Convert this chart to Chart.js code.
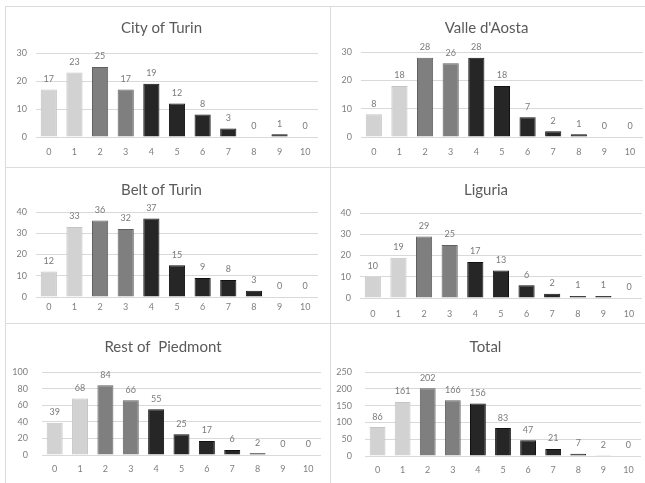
<!DOCTYPE html>
<html>
<head>
<meta charset="utf-8">
<script src="https://cdn.jsdelivr.net/npm/chart.js@4.4.1/dist/chart.umd.min.js"></script>
<style>
  html, body { margin: 0; padding: 0; background: #ffffff; }
  #wrap { position: relative; width: 645px; height: 483px; overflow: hidden; background: #fff; }
  .panel { position: absolute; box-sizing: border-box; border: 1px solid #dcdcdc; }
  canvas { position: absolute; left: 0; top: 0; }
</style>
</head>
<body>
<div id="wrap"></div>
<script>
// ---- data ----
const categories = ['0','1','2','3','4','5','6','7','8','9','10'];
const cityOfTurin     = [17, 23, 25, 17, 19, 12, 8, 3, 0, 1, 0];
const valleDAosta     = [8, 18, 28, 26, 28, 18, 7, 2, 1, 0, 0];
const beltOfTurin     = [12, 33, 36, 32, 37, 15, 9, 8, 3, 0, 0];
const liguria         = [10, 19, 29, 25, 17, 13, 6, 2, 1, 1, 0];
const restOfPiedmont  = [39, 68, 84, 66, 55, 25, 17, 6, 2, 0, 0];
const total           = [86, 161, 202, 166, 156, 83, 47, 21, 7, 2, 0];
const titles = ['City of Turin', "Valle d'Aosta", 'Belt of Turin', 'Liguria', 'Rest of  Piedmont', 'Total'];
const yMax  = [30, 30, 40, 40, 100, 250];
const yStep = [10, 10, 10, 10, 20, 50];

// ---- style ----
const shade = ['l','l','m','m','d','d','d','d','d','d','d'];
const fillOf   = { l: '#d2d2d2', m: '#7f7f7f', d: '#262626' };
const borderOf = { l: '#c4c4c4', m: '#606060', d: '#111111' };
const FONT = 'Lato, "Open Sans", "Liberation Sans", sans-serif';
const TITLE_SIZE = 15;

// layout (absolute page pixels): panel rect, chart area, title centre, x-label centre, y-label right edge
const layouts = [
  { px: 5,   py: 6,   pw: 325, ph: 161, al: 36,  ar: 318, at: 53,  ab: 137, ty: 28,  xy: 152, yr: 27 },
  { px: 330, py: 6,   pw: 315, ph: 161, al: 361, ar: 643, at: 52,  ab: 137, ty: 28,  xy: 152, yr: 352 },
  { px: 5,   py: 167, pw: 325, ph: 156, al: 36,  ar: 318, at: 212, ab: 297, ty: 190, xy: 307, yr: 27 },
  { px: 330, py: 167, pw: 315, ph: 156, al: 360, ar: 642, at: 213, ab: 298, ty: 190, xy: 314, yr: 351 },
  { px: 5,   py: 323, pw: 325, ph: 160, al: 42,  ar: 321, at: 372, ab: 455, ty: 347, xy: 469, yr: 28 },
  { px: 330, py: 323, pw: 315, ph: 160, al: 365, ar: 641, at: 372, ab: 456, ty: 347, xy: 470, yr: 352 }
];
const series = [cityOfTurin, valleDAosta, beltOfTurin, liguria, restOfPiedmont, total];

const valueLabels = {
  id: 'valueLabels',
  afterDatasetsDraw(chart) {
    const ctx = chart.ctx;
    const meta = chart.getDatasetMeta(0);
    const vals = chart.data.datasets[0].data;
    ctx.save();
    ctx.font = '9px ' + FONT;
    ctx.fillStyle = '#7a7a7a';
    ctx.textAlign = 'center';
    ctx.textBaseline = 'middle';
    meta.data.forEach((el, i) => {
      ctx.fillText(String(vals[i]), el.x, el.y - 10.5);
    });
    ctx.restore();
  }
};

const wrap = document.getElementById('wrap');
layouts.forEach((L, k) => {
  const div = document.createElement('div');
  div.className = 'panel';
  div.style.left = L.px + 'px';
  div.style.top = L.py + 'px';
  div.style.width = (L.pw + 1) + 'px';
  div.style.height = (L.ph + 1) + 'px';
  const cv = document.createElement('canvas');
  cv.width = L.pw; cv.height = L.ph;
  cv.style.width = L.pw + 'px'; cv.style.height = L.ph + 'px';
  cv.style.left = '-1px'; cv.style.top = '-1px';
  div.appendChild(cv);
  wrap.appendChild(div);

  const tLine = TITLE_SIZE * 1.2;
  const yw = L.al - L.px;
  const xh = L.py + L.ph - L.ab;
  const ypad = L.al - L.yr;
  const xpad = L.xy - L.ab - 5.4;
  const tPadTop = L.ty - L.py - tLine / 2;
  const tPadBottom = (L.at - L.py) - tPadTop - tLine;
  const padRight = L.px + L.pw - L.ar;

  new Chart(cv, {
    type: 'bar',
    data: {
      labels: categories,
      datasets: [{
        data: series[k],
        backgroundColor: shade.map(s => fillOf[s]),
        borderColor: shade.map(s => borderOf[s]),
        borderWidth: 1,
        barPercentage: 0.63,
        categoryPercentage: 1.0
      }]
    },
    options: {
      responsive: false,
      animation: false,
      events: [],
      layout: { padding: { left: 0, right: padRight, top: 0, bottom: 0 } },
      plugins: {
        legend: { display: false },
        tooltip: { enabled: false },
        title: {
          display: true,
          text: titles[k],
          color: '#5a5a5a',
          font: { family: FONT, size: TITLE_SIZE, weight: 'normal', lineHeight: 1.2 },
          padding: { top: tPadTop, bottom: tPadBottom }
        }
      },
      scales: {
        x: {
          grid: { display: false, drawTicks: false },
          border: { display: false },
          ticks: { color: '#7f7f7f', font: { family: FONT, size: 9, lineHeight: 1.2 }, padding: xpad, maxRotation: 0, autoSkip: false },
          afterFit(s) { s.height = xh; }
        },
        y: {
          min: 0, max: yMax[k],
          grid: { color: '#d9d9d9', lineWidth: 1, drawTicks: false },
          border: { display: false },
          ticks: { stepSize: yStep[k], color: '#7f7f7f', font: { family: FONT, size: 9, lineHeight: 1.2 }, padding: ypad },
          afterFit(s) { s.width = yw; }
        }
      }
    },
    plugins: [valueLabels]
  });
});
</script>
</body>
</html>
